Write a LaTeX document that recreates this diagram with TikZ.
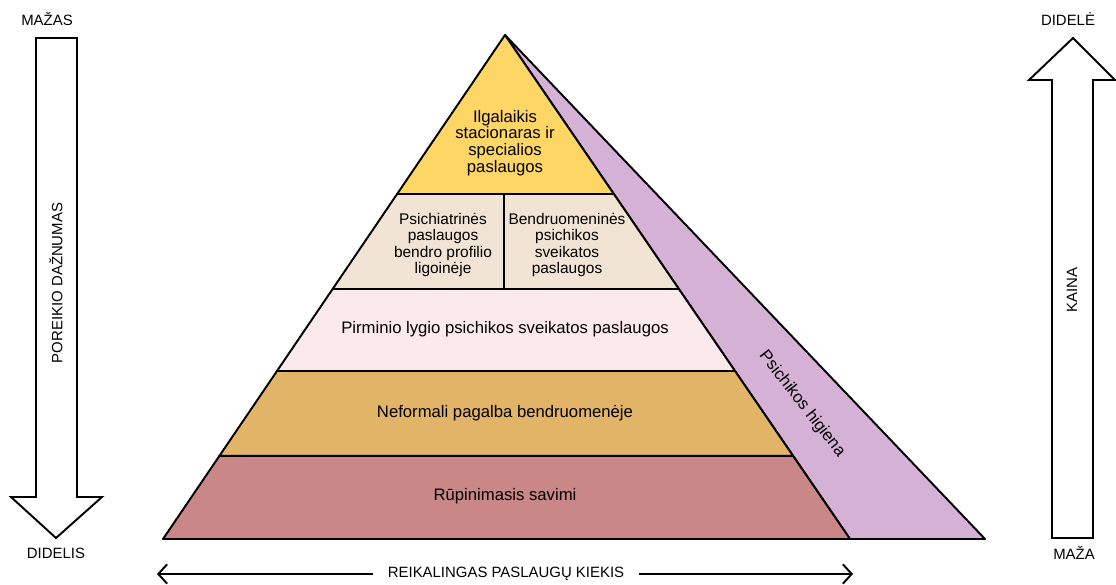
\documentclass[tikz,border=0pt]{standalone}
\usepackage{fontspec}
\setmainfont{Liberation Sans}
\usetikzlibrary{calc,arrows.meta}
\definecolor{topyellow}{RGB}{254,214,102}
\definecolor{beige}{RGB}{242,228,212}
\definecolor{palepink}{RGB}{252,233,236}
\definecolor{layertan}{RGB}{226,180,104}
\definecolor{rose}{RGB}{201,135,135}
\definecolor{lilac}{RGB}{213,177,213}
\tikzset{
	layer/.style = {draw, line width=1.1pt, line join=round},
	lbl/.style = {align=center, font=\fontsize{9.5}{9.6}\selectfont},
	small/.style = {align=center, font=\fontsize{8.8}{9.4}\selectfont},
	axis/.style = {font=\fontsize{8.5}{10}\selectfont},
	bigarrow/.style = {draw, line width=1.1pt, fill=white, line join=miter},
	qarrow/.style = {-{Straight Barb[length=5pt,width=11pt]}, line width=1.1pt},
}

\begin{document}
\begin{tikzpicture}[x=0.02cm, y=-0.02cm]
	\useasboundingbox (0,0) rectangle (1116,585);
	\coordinate (apex) at (505,35);
	\coordinate (bl) at (163,539);
	\coordinate (br) at (850,539);
	\coordinate (hr) at (985,539);

	\draw[layer, fill=lilac] (apex) -- (hr) -- (br) -- cycle;
	\draw[layer, fill=rose] ($(apex)!0.835!(bl)$) -- (bl) -- (br) -- ($(apex)!0.835!(br)$) -- cycle;
	\draw[layer, fill=layertan] ($(apex)!0.6667!(bl)$) -- ($(apex)!0.835!(bl)$) -- ($(apex)!0.835!(br)$) -- ($(apex)!0.6667!(br)$) -- cycle;
	\draw[layer, fill=palepink] ($(apex)!0.504!(bl)$) -- ($(apex)!0.6667!(bl)$) -- ($(apex)!0.6667!(br)$) -- ($(apex)!0.504!(br)$) -- cycle;
	\draw[layer, fill=beige] ($(apex)!0.3155!(bl)$) -- ($(apex)!0.504!(bl)$) -- ($(apex)!0.504!(br)$) -- ($(apex)!0.3155!(br)$) -- cycle;
	\draw[layer, fill=topyellow] (apex) -- ($(apex)!0.3155!(bl)$) -- ($(apex)!0.3155!(br)$) -- cycle;
	\draw[layer] (504,194) -- (504,289);

	\node[lbl] (inpatient) at (505,143) {Ilgalaikis\\stacionaras ir\\specialios\\paslaugos};
	\node[small] (psychiatric) at (443,245) {Psichiatrinės\\paslaugos\\bendro profilio\\ligoinėje};
	\node[small] (community) at (567,245) {Bendruomeninės\\psichikos\\sveikatos\\paslaugos};
	\node[lbl] (primary) at (505,329) {Pirminio lygio psichikos sveikatos paslaugos};
	\node[lbl] (informal) at (505,413) {Neformali pagalba bendruomenėje};
	\node[lbl] (selfcare) at (505,496) {Rūpinimasis savimi};
	\node[lbl, rotate=-52, inner sep=1pt] (hygiene) at (802,404) {Psichikos higiena};

	\draw[bigarrow] (36,38) -- (77,38) -- (77,497) -- (102,497) -- (56,538) -- (11,497) -- (36,497) -- cycle;
	\draw[bigarrow] (1052,538) -- (1093,538) -- (1093,80) -- (1115,80) -- (1073,38) -- (1029,80) -- (1052,80) -- cycle;

	\node[axis] (few) at (47,19) {MAŽAS};
	\node[axis] (many) at (56,553) {DIDELIS};
	\node[axis, rotate=90] (freq) at (56,283) {POREIKIO DAŽNUMAS};
	\node[axis] (high) at (1068,19) {DIDELĖ};
	\node[axis] (low) at (1074,553) {MAŽA};
	\node[axis, rotate=90] (cost) at (1072,290) {KAINA};

	\coordinate (qleft) at (157,574);
	\coordinate (qright) at (853,574);
	\node[axis, inner xsep=8pt] (amount) at (506,574) {REIKALINGAS PASLAUGŲ KIEKIS};
	\draw[qarrow] (amount) -- (qleft);
	\draw[qarrow] (amount) -- (qright);
\end{tikzpicture}
\end{document}
